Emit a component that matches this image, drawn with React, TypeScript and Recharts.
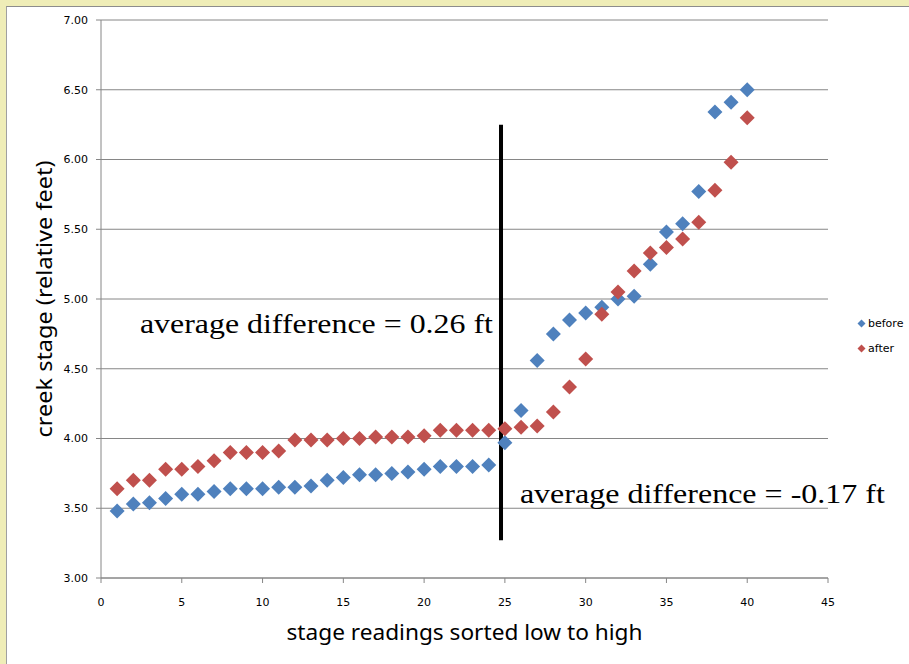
import React from 'react';
import {
  ScatterChart,
  Scatter,
  XAxis,
  YAxis,
  CartesianGrid,
  ReferenceLine,
  ReferenceDot,
  Legend,
} from 'recharts';

const readings = [
  1, 2, 3, 4, 5, 6, 7, 8, 9, 10, 11, 12, 13, 14, 15, 16, 17, 18, 19, 20,
  21, 22, 23, 24, 25, 26, 27, 28, 29, 30, 31, 32, 33, 34, 35, 36, 37, 38, 39, 40,
];
const beforeStage = [
  3.48, 3.53, 3.54, 3.57, 3.60, 3.60, 3.62, 3.64, 3.64, 3.64, 3.65, 3.65, 3.66, 3.70, 3.72, 3.74, 3.74, 3.75, 3.76, 3.78,
  3.80, 3.80, 3.80, 3.81, 3.97, 4.20, 4.56, 4.75, 4.85, 4.90, 4.94, 5.00, 5.02, 5.25, 5.48, 5.54, 5.77, 6.34, 6.41, 6.50,
];
const afterStage = [
  3.64, 3.70, 3.70, 3.78, 3.78, 3.80, 3.84, 3.90, 3.90, 3.90, 3.91, 3.99, 3.99, 3.99, 4.00, 4.00, 4.01, 4.01, 4.01, 4.02,
  4.06, 4.06, 4.06, 4.06, 4.07, 4.08, 4.09, 4.19, 4.37, 4.57, 4.89, 5.05, 5.20, 5.33, 5.37, 5.43, 5.55, 5.78, 5.98, 6.30,
];
const xTicks = [0, 5, 10, 15, 20, 25, 30, 35, 40, 45];
const yTicks = [3, 3.5, 4, 4.5, 5, 5.5, 6, 6.5, 7];
const seriesNames = ['before', 'after'];
const seriesColors = ['#4F81BD', '#C0504D'];

// annotation texts with their anchor (data coordinates)
const annotations = [
  { text: 'average difference = 0.26 ft', x: 2.41, y: 4.756, len: 353 },
  { text: 'average difference = -0.17 ft', x: 25.93, y: 3.54, len: 365 },
];
// divider segment (data coordinates)
const dividerX = 24.76;
const dividerY = [3.27, 6.25];

const beforeData = readings.map((x, i) => ({ x, y: beforeStage[i] }));
const afterData = readings.map((x, i) => ({ x, y: afterStage[i] }));

const makeDiamond = (color: string) => (props: any) => {
  const { cx, cy } = props;
  const h = 7.5;
  return (
    <path
      d={`M${cx},${cy - h}L${cx + h},${cy}L${cx},${cy + h}L${cx - h},${cy}Z`}
      fill={color}
    />
  );
};

const tickFont = { fill: '#000', fontSize: 11, fontFamily: '"DejaVu Sans", sans-serif' };

const LegendContent = () => (
  <div style={{ fontFamily: '"DejaVu Sans", sans-serif', fontSize: 11, color: '#000' }}>
    {seriesNames.map((n, i) => (
      <div key={n} style={{ display: 'flex', alignItems: 'center', height: 25 }}>
        <svg width={11} height={11} style={{ display: 'block' }}>
          <path d="M5.5,1.5L9.5,5.5L5.5,9.5L1.5,5.5Z" fill={seriesColors[i]} />
        </svg>
        <span style={{ marginLeft: 1 }}>{n}</span>
      </div>
    ))}
  </div>
);

export default function App() {
  return (
    <div style={{ position: 'absolute', left: 0, top: 0, width: 909, height: 664, background: '#EFEDB7', overflow: 'hidden' }}>
      <div
        style={{
          position: 'absolute',
          left: 6,
          top: 6,
          width: 903,
          height: 658,
          background: '#fff',
          borderTop: '1px solid #8C8C8C',
          borderLeft: '1px solid #A0A0A0',
        }}
      />
      <div style={{ position: 'absolute', left: 0, top: 0 }}>
        <ScatterChart width={909} height={664} margin={{ top: 20, right: 81, bottom: 0, left: 0 }}>
          <CartesianGrid vertical={false} stroke="#868686" strokeWidth={1} />
          <XAxis
            type="number"
            dataKey="x"
            domain={[0, 45]}
            ticks={xTicks}
            interval={0}
            height={86}
            tickSize={5}
            tickMargin={15}
            axisLine={{ stroke: '#868686' }}
            tickLine={{ stroke: '#868686' }}
            tick={tickFont}
            label={{
              content: (p: any) => {
                const vb = p.viewBox;
                return (
                  <text
                    x={vb.x + vb.width / 2}
                    y={vb.y + 62}
                    textAnchor="middle"
                    fontFamily='"Noto Sans", sans-serif'
                    fontSize={21}
                    textLength={356}
                    lengthAdjust="spacingAndGlyphs"
                    fill="#000"
                  >
                    stage readings sorted low to high
                  </text>
                );
              },
            }}
          />
          <YAxis
            type="number"
            dataKey="y"
            domain={[3, 7]}
            ticks={yTicks}
            interval={0}
            width={101}
            tickSize={5}
            tickMargin={8}
            tickFormatter={(v: number) => v.toFixed(2)}
            axisLine={{ stroke: '#868686' }}
            tickLine={{ stroke: '#868686' }}
            tick={tickFont}
            label={{
              content: (p: any) => {
                const vb = p.viewBox;
                const cx = vb.x + 44;
                const cy = vb.y + vb.height / 2;
                return (
                  <text
                    x={cx}
                    y={cy}
                    textAnchor="middle"
                    dominantBaseline="central"
                    transform={`rotate(-90, ${cx}, ${cy})`}
                    fontFamily='"Noto Sans", sans-serif'
                    fontSize={21}
                    textLength={277}
                    lengthAdjust="spacingAndGlyphs"
                    fill="#000"
                  >
                    creek stage (relative feet)
                  </text>
                );
              },
            }}
          />
          <Legend
            layout="horizontal"
            verticalAlign="middle"
            align="center"
            content={LegendContent}
            wrapperStyle={{ left: 856, top: 311, right: 'auto', bottom: 'auto', width: 60 }}
          />
          <Scatter
            name={seriesNames[0]}
            data={beforeData}
            fill={seriesColors[0]}
            shape={makeDiamond(seriesColors[0])}
            isAnimationActive={false}
          />
          <Scatter
            name={seriesNames[1]}
            data={afterData}
            fill={seriesColors[1]}
            shape={makeDiamond(seriesColors[1])}
            isAnimationActive={false}
          />
          <ReferenceLine
            segment={[
              { x: dividerX, y: dividerY[0] },
              { x: dividerX, y: dividerY[1] },
            ]}
            stroke="#000"
            strokeWidth={4}
          />
          {annotations.map((a) => (
            <ReferenceDot
              key={a.text}
              x={a.x}
              y={a.y}
              r={0}
              fill="none"
              stroke="none"
              label={{
                content: (p: any) => {
                  const vb = p.viewBox;
                  return (
                    <text
                      x={vb.x}
                      y={vb.y}
                      fontFamily='"Liberation Serif", "Times New Roman", serif'
                      fontSize={28}
                      textLength={a.len}
                      lengthAdjust="spacingAndGlyphs"
                      fill="#000"
                    >
                      {a.text}
                    </text>
                  );
                },
              }}
            />
          ))}
        </ScatterChart>
      </div>
    </div>
  );
}
